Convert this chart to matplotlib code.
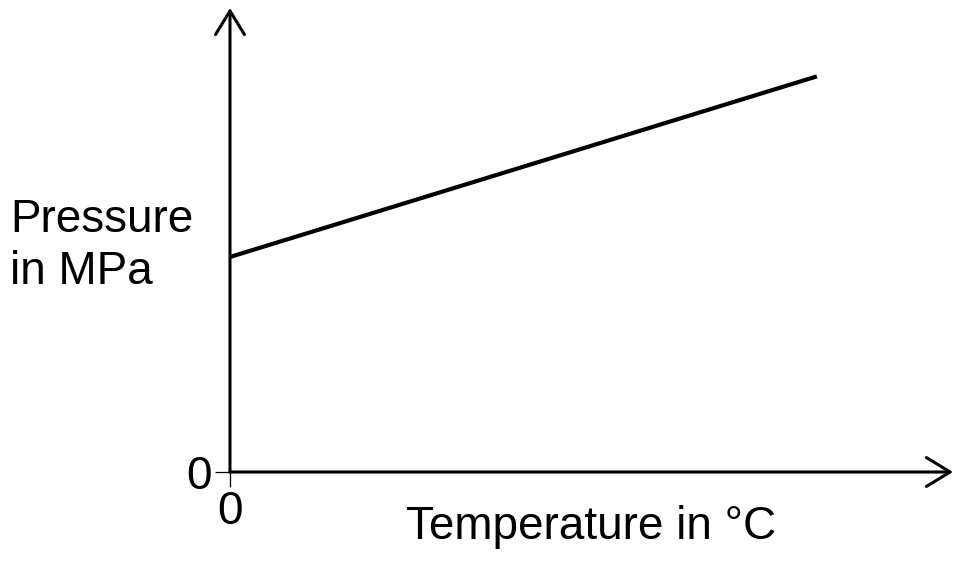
import matplotlib.pyplot as plt

# values (arbitrary units, no scale shown)
temperature = [0, 100]
pressure = [1.0, 1.84]
x_ticks = [0]
y_ticks = [0]
x_label = "Temperature in °C"
y_label = "Pressure\nin MPa"

plt.rcParams['font.family'] = ['Liberation Sans', 'DejaVu Sans']

fig = plt.figure(figsize=(9.64, 5.65), dpi=100)
ax = fig.add_axes([230 / 964, (565 - 472) / 565, (953 - 230) / 964, (472 - 8) / 565])

ax.plot(temperature, pressure, color='black', lw=3.0, solid_capstyle='butt')
ax.set_xlim(0, 123.2)
ax.set_ylim(0, 2.158)

for s in ax.spines.values():
    s.set_visible(False)

# axes drawn as arrows with open heads
arrow = dict(arrowstyle='->,head_length=0.85,head_width=0.52', lw=2.2,
             color='black', mutation_scale=20, shrinkA=0, shrinkB=0)
ax.annotate('', xy=(1, 0), xytext=(0, 0), xycoords='axes fraction',
            textcoords='axes fraction', arrowprops=arrow, annotation_clip=False)
ax.annotate('', xy=(0, 1), xytext=(0, 0), xycoords='axes fraction',
            textcoords='axes fraction', arrowprops=arrow, annotation_clip=False)

ax.set_xticks(x_ticks)
ax.set_yticks(y_ticks)
ax.tick_params(direction='out', length=11, width=0.9, labelsize=33, pad=2)

fig.text(10 / 964, 1 - 246 / 565, y_label, fontsize=33, ha='left', va='center',
         linespacing=1.22)
fig.text(591 / 964, 1 - 527 / 565, x_label, fontsize=33, ha='center', va='center')

fig.savefig('out.png', dpi=100)
